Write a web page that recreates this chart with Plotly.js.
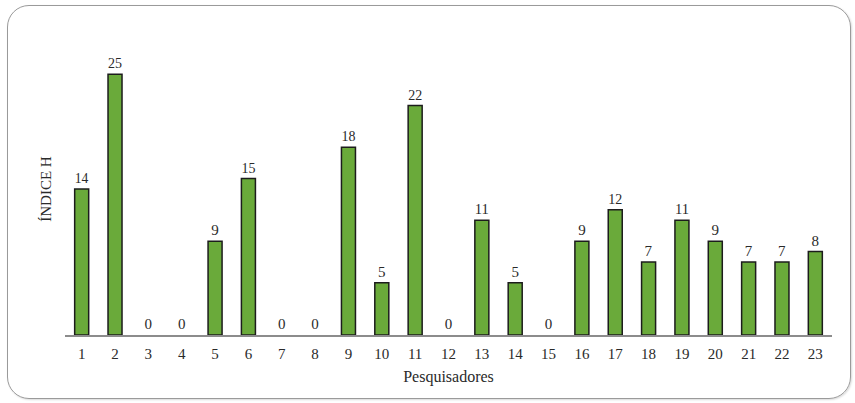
<!DOCTYPE html>
<html><head><meta charset="utf-8">
<script src="https://cdn.plot.ly/plotly-3.0.1.min.js"></script>
<style>
html,body{margin:0;padding:0;background:#fff;}
#wrap{position:relative;width:855px;height:403px;}
#chart{position:absolute;left:0;top:0;width:855px;height:403px;}
#frame{position:absolute;left:7px;top:5px;width:842px;height:392px;border:1.5px solid #9a9a9a;border-radius:22px;pointer-events:none;box-shadow:1px 1px 2px rgba(0,0,0,0.15);}
</style></head>
<body><div id="wrap"><div id="chart"></div><div id="frame"></div></div>
<script>
const researchers = ['1','2','3','4','5','6','7','8','9','10','11','12','13','14','15','16','17','18','19','20','21','22','23'];
const hIndex = [14,25,0,0,9,15,0,0,18,5,22,0,11,5,0,9,12,7,11,9,7,7,8];

const trace = {
  type: 'bar',
  x: researchers,
  y: hIndex,
  text: hIndex.map(String),
  textposition: 'outside',
  cliponaxis: false,
  textfont: {family: 'Liberation Serif, DejaVu Serif, serif', size: 15, color: '#2a2a2a'},
  marker: {color: '#6aaa3a', line: {color: '#1c1c1c', width: hIndex.map(v => v > 0 ? 1.5 : 0)}},
  hoverinfo: 'x+y'
};

const layout = {
  width: 855, height: 403,
  margin: {l: 65, r: 23, t: 43, b: 68},
  paper_bgcolor: 'rgba(0,0,0,0)',
  plot_bgcolor: 'rgba(0,0,0,0)',
  bargap: 0.58,
  showlegend: false,
  font: {family: 'Liberation Serif, DejaVu Serif, serif', color: '#2a2a2a'},
  xaxis: {
    type: 'category',
    range: [-0.5, 22.5],
    showline: true, linecolor: '#8c8c8c', linewidth: 1.5,
    ticks: '', showgrid: false, zeroline: false,
    ticklabelstandoff: 4,
    tickfont: {size: 15, color: '#2a2a2a'},
    title: {text: 'Pesquisadores', font: {size: 16, color: '#2a2a2a'}, standoff: 10}
  },
  yaxis: {
    range: [0, 28],
    showticklabels: false, showgrid: false, zeroline: false, showline: false, ticks: '',
    title: {text: 'ÍNDICE H', font: {size: 15, color: '#2a2a2a'}, standoff: 8}
  }
};

Plotly.newPlot('chart', [trace], layout, {displayModeBar: false, staticPlot: true});
</script></body></html>
